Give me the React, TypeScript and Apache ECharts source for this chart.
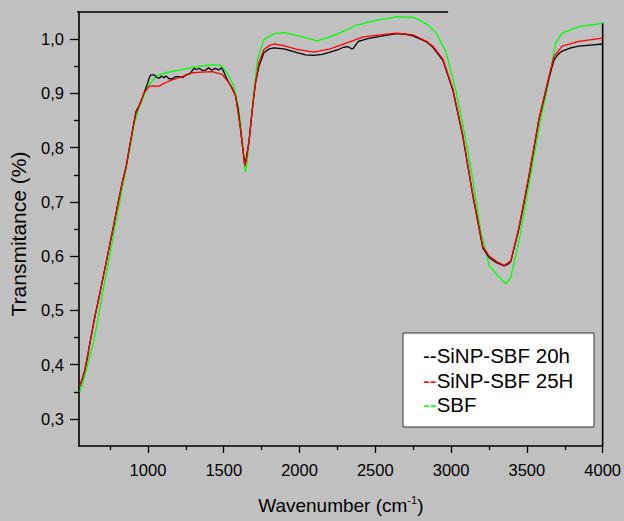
import React, { useEffect, useRef } from "react";
import * as echarts from "echarts";

// ---- Data ----
const wn20h = [550, 565, 582, 600, 615, 650, 680, 724, 768, 800, 833, 856, 877, 900, 920, 943, 960, 976, 997, 1010, 1020, 1041, 1060, 1074, 1090, 1105, 1118, 1140, 1161, 1185, 1205, 1230, 1249, 1275, 1304, 1320, 1340, 1360, 1380, 1400, 1420, 1446, 1465, 1485, 1500, 1512, 1533, 1555, 1577, 1595, 1610, 1625, 1638, 1645, 1667, 1689, 1710, 1732, 1765, 1800, 1831, 1896, 1950, 1984, 2040, 2093, 2150, 2202, 2250, 2290, 2320, 2345, 2355, 2365, 2388, 2450, 2531, 2640, 2700, 2749, 2800, 2837, 2880, 2946, 3012, 3077, 3143, 3209, 3252, 3300, 3351, 3375, 3394, 3449, 3515, 3580, 3646, 3679, 3710, 3733, 3790, 3843, 3920, 4000];
const t20h = [0.360, 0.372, 0.388, 0.412, 0.437, 0.490, 0.528, 0.588, 0.649, 0.695, 0.739, 0.765, 0.799, 0.835, 0.866, 0.878, 0.890, 0.902, 0.918, 0.930, 0.934, 0.934, 0.929, 0.928, 0.932, 0.929, 0.932, 0.927, 0.927, 0.931, 0.931, 0.929, 0.934, 0.936, 0.946, 0.944, 0.946, 0.942, 0.943, 0.947, 0.943, 0.946, 0.943, 0.947, 0.940, 0.932, 0.920, 0.910, 0.896, 0.870, 0.836, 0.800, 0.768, 0.775, 0.812, 0.872, 0.920, 0.950, 0.975, 0.982, 0.984, 0.982, 0.978, 0.975, 0.971, 0.970, 0.972, 0.976, 0.980, 0.985, 0.986, 0.982, 0.983, 0.987, 0.996, 1.001, 1.005, 1.010, 1.009, 1.006, 1.000, 0.995, 0.985, 0.961, 0.905, 0.821, 0.712, 0.615, 0.597, 0.588, 0.582, 0.585, 0.590, 0.652, 0.748, 0.852, 0.928, 0.962, 0.973, 0.978, 0.984, 0.987, 0.989, 0.991];

const wn25h = [550, 582, 615, 650, 680, 724, 768, 833, 856, 877, 900, 920, 943, 976, 1009, 1040, 1074, 1100, 1118, 1160, 1205, 1250, 1293, 1350, 1424, 1489, 1533, 1577, 1610, 1625, 1640, 1648, 1667, 1689, 1710, 1732, 1765, 1800, 1831, 1896, 1984, 2093, 2202, 2312, 2421, 2531, 2640, 2749, 2793, 2837, 2880, 2946, 3012, 3077, 3143, 3209, 3252, 3300, 3351, 3394, 3449, 3515, 3580, 3646, 3679, 3733, 3843, 4000];
const t25h = [0.360, 0.389, 0.437, 0.487, 0.528, 0.588, 0.649, 0.739, 0.763, 0.799, 0.835, 0.862, 0.878, 0.902, 0.913, 0.914, 0.913, 0.918, 0.920, 0.925, 0.929, 0.933, 0.938, 0.939, 0.940, 0.935, 0.920, 0.896, 0.836, 0.800, 0.766, 0.775, 0.812, 0.872, 0.920, 0.957, 0.981, 0.988, 0.991, 0.988, 0.981, 0.976, 0.982, 0.993, 1.004, 1.008, 1.011, 1.008, 1.002, 0.996, 0.987, 0.963, 0.908, 0.824, 0.715, 0.618, 0.600, 0.590, 0.583, 0.591, 0.655, 0.751, 0.854, 0.932, 0.968, 0.987, 0.996, 1.002];

const wnSBF = [550, 570, 600, 637, 670, 698, 740, 779, 830, 882, 910, 940, 976, 997, 1052, 1118, 1205, 1315, 1424, 1479, 1522, 1566, 1599, 1625, 1643, 1652, 1667, 1699, 1722, 1765, 1831, 1896, 1984, 2115, 2202, 2312, 2378, 2450, 2531, 2640, 2749, 2793, 2847, 2902, 2968, 3034, 3099, 3154, 3198, 3252, 3318, 3362, 3394, 3449, 3515, 3580, 3646, 3690, 3733, 3843, 4000];
const tSBF = [0.350, 0.365, 0.398, 0.437, 0.483, 0.528, 0.590, 0.649, 0.725, 0.800, 0.845, 0.873, 0.898, 0.911, 0.932, 0.938, 0.943, 0.949, 0.953, 0.952, 0.938, 0.914, 0.872, 0.805, 0.755, 0.770, 0.812, 0.902, 0.962, 0.999, 1.010, 1.012, 1.007, 0.997, 1.004, 1.017, 1.026, 1.031, 1.036, 1.041, 1.040, 1.035, 1.026, 1.011, 0.975, 0.902, 0.812, 0.721, 0.642, 0.582, 0.561, 0.549, 0.561, 0.630, 0.733, 0.836, 0.926, 0.993, 1.011, 1.023, 1.029];

const seriesNames = ["SiNP-SBF 20h", "SiNP-SBF 25H", "SBF"];
const seriesColors = ["#000000", "#ff0000", "#00ff00"];

const xMajorTicks = [1000, 1500, 2000, 2500, 3000, 3500, 4000];
const xMinorTicks = [750, 1250, 1750, 2250, 2750, 3250, 3750];
const yMajorTicks = [0.3, 0.4, 0.5, 0.6, 0.7, 0.8, 0.9, 1.0];
const yMinorTicks = [0.35, 0.45, 0.55, 0.65, 0.75, 0.85, 0.95];

const X_MIN = 545;
const X_MAX = 4000;
const Y_MIN = 0.25;
const Y_MAX = 1.05;
const TOP_FRAME_END = 2980;
const RIGHT_FRAME_START = 1.03;

const FONT = "'Liberation Sans', Arial, Helvetica, sans-serif";

function pairs(xs: number[], ys: number[]) {
  return xs.map((x, i) => [x, ys[i]]);
}

export default function App() {
  const ref = useRef<HTMLDivElement>(null);

  useEffect(() => {
    if (!ref.current) return;
    const chart = echarts.init(ref.current, null, { renderer: "svg" });

    const axisLineStyle = { color: "#000", width: 1.6 };
    const tickLineStyle = { color: "#000", width: 1.3 };

    const option: any = {
      animation: false,
      backgroundColor: "#c0c0c0",
      grid: { left: 78, right: 20, top: 12, bottom: 69 },
      xAxis: [
        {
          type: "value",
          min: X_MIN,
          max: X_MAX,
          position: "bottom",
          name: "Wavenumber (cm{sup|-1})",
          nameLocation: "middle",
          nameGap: 48,
          nameTextStyle: {
            color: "#000",
            fontSize: 19,
            fontFamily: FONT,
            lineHeight: 22,
            rich: {
              sup: { fontSize: 11, fontFamily: FONT, color: "#000", verticalAlign: "top", lineHeight: 12 },
            },
          },
          axisLine: { show: true, onZero: false, lineStyle: axisLineStyle },
          axisTick: { show: true, inside: false, length: 7, customValues: xMajorTicks, lineStyle: tickLineStyle },
          axisLabel: {
            customValues: xMajorTicks,
            margin: 15,
            color: "#000",
            fontSize: 16.5,
            fontFamily: FONT,
            formatter: (v: number) => String(v),
          },
          splitLine: { show: false },
        },
        {
          type: "value",
          min: X_MIN,
          max: X_MAX,
          position: "bottom",
          axisLine: { show: false },
          axisTick: { show: true, inside: false, length: 4, customValues: xMinorTicks, lineStyle: tickLineStyle },
          axisLabel: { show: false },
          splitLine: { show: false },
        },
      ],
      yAxis: [
        {
          type: "value",
          min: Y_MIN,
          max: Y_MAX,
          position: "left",
          name: "Transmitance (%)",
          nameLocation: "middle",
          nameGap: 50,
          nameTextStyle: { color: "#000", fontSize: 21, fontFamily: FONT, padding: [0, 10, 0, 0] },
          axisLine: { show: true, onZero: false, lineStyle: axisLineStyle },
          axisTick: { show: true, inside: false, length: 9, customValues: yMajorTicks, lineStyle: tickLineStyle },
          axisLabel: {
            customValues: yMajorTicks,
            margin: 15,
            color: "#000",
            fontSize: 16.5,
            fontFamily: FONT,
            formatter: (v: number) => v.toFixed(1).replace(".", ","),
          },
          splitLine: { show: false },
        },
        {
          type: "value",
          min: Y_MIN,
          max: Y_MAX,
          position: "left",
          axisLine: { show: false },
          axisTick: { show: true, inside: false, length: 5, customValues: yMinorTicks, lineStyle: tickLineStyle },
          axisLabel: { show: false },
          splitLine: { show: false },
        },
      ],
      series: [
        {
          name: seriesNames[2],
          type: "line",
          data: pairs(wnSBF, tSBF),
          showSymbol: false,
          symbol: "none",
          lineStyle: { color: seriesColors[2], width: 1.3 },
          itemStyle: { color: seriesColors[2] },
        },
        {
          name: seriesNames[0],
          type: "line",
          data: pairs(wn20h, t20h),
          showSymbol: false,
          symbol: "none",
          lineStyle: { color: seriesColors[0], width: 1.3 },
          itemStyle: { color: seriesColors[0] },
        },
        {
          name: seriesNames[1],
          type: "line",
          data: pairs(wn25h, t25h),
          showSymbol: false,
          symbol: "none",
          lineStyle: { color: seriesColors[1], width: 1.3 },
          itemStyle: { color: seriesColors[1] },
        },
      ],
    };

    chart.setOption(option);

    const px = (v: number[]) => chart.convertToPixel({ seriesIndex: 0 }, v) as number[];
    const tl = px([X_MIN, Y_MAX]);
    const tr = px([TOP_FRAME_END, Y_MAX]);
    const rt = px([X_MAX, RIGHT_FRAME_START]);
    const rb = px([X_MAX, Y_MIN]);

    const legendX = 403;
    const legendY = 333;
    const rowY = [355, 380, 404.5];

    chart.setOption({
      graphic: [
        {
          type: "line",
          shape: { x1: tl[0] - 2, y1: tl[1], x2: tr[0], y2: tr[1] },
          style: { stroke: "#000", lineWidth: 1.6 },
          silent: true,
        },
        {
          type: "line",
          shape: { x1: rt[0], y1: rt[1], x2: rb[0], y2: rb[1] },
          style: { stroke: "#000", lineWidth: 1.6 },
          silent: true,
        },
        {
          type: "group",
          silent: true,
          children: [
            {
              type: "rect",
              shape: { x: legendX, y: legendY, width: 191, height: 94 },
              style: { fill: "#ffffff", stroke: "#333333", lineWidth: 1 },
            },
            ...seriesNames.map((n, i) => ({
              type: "text",
              x: 423,
              y: rowY[i],
              style: {
                text: `{d|--}{n|${n}}`,
                verticalAlign: "middle",
                align: "left",
                font: `20.5px ${FONT}`,
                rich: {
                  d: { fill: seriesColors[i], fontSize: 20.5, fontFamily: FONT },
                  n: { fill: "#000", fontSize: 20.5, fontFamily: FONT },
                },
              },
            })),
          ],
        },
      ],
    });

    return () => chart.dispose();
  }, []);

  return (
    <div
      ref={ref}
      style={{ position: "fixed", left: 0, top: 0, width: 624, height: 521, background: "#c0c0c0" }}
    />
  );
}
